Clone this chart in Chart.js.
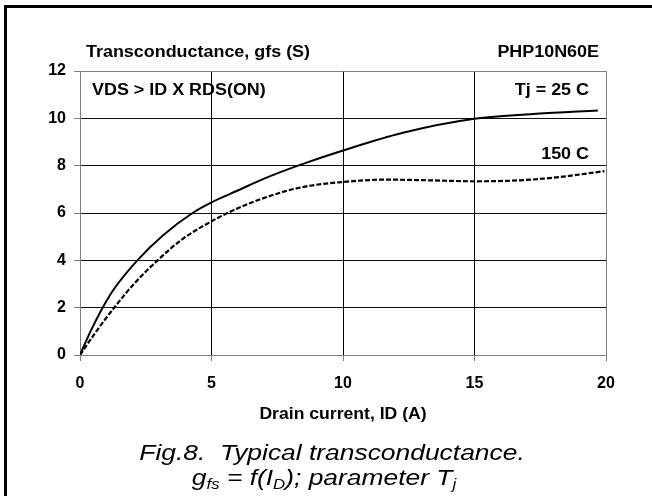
<!DOCTYPE html>
<html>
<head>
<meta charset="utf-8">
<script src="https://cdn.jsdelivr.net/npm/chart.js@4/dist/chart.umd.min.js"></script>
<style>
  html, body { margin: 0; padding: 0; background: #fff; }
  #wrap { width: 652px; height: 496px; position: relative; }
</style>
</head>
<body>
<div id="wrap"><canvas id="gfsChart" width="652" height="496"></canvas></div>
<script>
// valores (ID en A, gfs en S)
const id25  = [0, 0.4, 0.86, 1.3, 2.18, 3.16, 4.28, 5, 6, 7, 8.29, 10, 12.28, 15, 17.34, 19.69];
const gfs25 = [0, 1.0, 2.0, 2.8, 4.0, 5.06, 6.0, 6.45, 6.95, 7.45, 8.0, 8.64, 9.39, 9.98, 10.19, 10.33];
const id150  = [0, 0.62, 1.3, 2.05, 2.95, 3.9, 5, 6, 7.22, 8.48, 10, 11.65, 13.29, 15, 16.71, 18.23, 19.94];
const gfs150 = [0, 1.0, 2.0, 3.0, 4.0, 4.9, 5.65, 6.2, 6.72, 7.1, 7.31, 7.41, 7.38, 7.34, 7.38, 7.52, 7.77];
const xTicks = [0, 5, 10, 15, 20];
const yTicks = [0, 2, 4, 6, 8, 10, 12];

const FONT = '"Liberation Sans", Arial, sans-serif';
const GRIS = '#808080';

const toPts = (xs, ys) => xs.map((x, i) => ({ x: x, y: ys[i] }));

// texto algo ensanchado, como en la figura original
function texto(ctx, s, x, y, align, sx) {
    ctx.save();
    ctx.translate(x, y);
    ctx.scale(sx, 1);
    ctx.textAlign = align;
    ctx.fillText(s, 0, 0);
    ctx.restore();
}

const textos = {
    id: 'textos',
    beforeDraw(chart) {
        const ctx = chart.ctx;
        ctx.save();
        ctx.fillStyle = '#fff';
        ctx.fillRect(0, 0, chart.width, chart.height);
        ctx.fillStyle = '#000';
        ctx.fillRect(4, 5, 3, chart.height - 5);
        ctx.fillRect(4, 5, chart.width - 4, 3);
        ctx.restore();
    },
    afterDraw(chart) {
        const ctx = chart.ctx;
        const a = chart.chartArea;
        ctx.save();
        ctx.fillStyle = '#000';
        ctx.textBaseline = 'middle';
        ctx.font = 'bold 16px ' + FONT;
        texto(ctx, 'Transconductance, gfs (S)', 86, 53, 'left', 1.12);
        texto(ctx, 'VDS > ID X RDS(ON)', 92, 91, 'left', 1.12);
        texto(ctx, 'PHP10N60E', 599, 53, 'right', 1.12);
        texto(ctx, 'Tj = 25 C', 589, 91, 'right', 1.12);
        texto(ctx, '150 C', 589, 155, 'right', 1.12);
        texto(ctx, 'Drain current, ID (A)', (a.left + a.right) / 2, 415, 'center', 1.1);

        // leyenda de la figura
        ctx.textBaseline = 'alphabetic';
        ctx.font = 'italic 22px ' + FONT;
        texto(ctx, 'Fig.8.  Typical transconductance.', 332, 460, 'center', 1.2);
        const partes = [['g', 0], ['fs', 1], [' = f(I', 0], ['D', 1], ['); parameter T', 0], ['j', 1]];
        const fMain = 'italic 22px ' + FONT, fSub = 'italic 14px ' + FONT;
        const sx = 1.2;
        let w = 0;
        partes.forEach(p => { ctx.font = p[1] ? fSub : fMain; w += ctx.measureText(p[0]).width * sx; });
        let x = 324 - w / 2;
        partes.forEach(p => {
            ctx.font = p[1] ? fSub : fMain;
            texto(ctx, p[0], x, p[1] ? 489 : 485, 'left', sx);
            x += ctx.measureText(p[0]).width * sx;
        });
        ctx.restore();
    }
};

const ctxG = document.getElementById('gfsChart').getContext('2d');
new Chart(ctxG, {
    type: 'scatter',
    data: {
        datasets: [
            {
                label: 'Tj = 25 C',
                data: toPts(id25, gfs25),
                showLine: true,
                borderColor: '#000',
                borderWidth: 2,
                pointRadius: 0,
                cubicInterpolationMode: 'monotone'
            },
            {
                label: '150 C',
                data: toPts(id150, gfs150),
                showLine: true,
                borderColor: '#000',
                borderWidth: 2.2,
                borderDash: [5, 2],
                pointRadius: 0,
                cubicInterpolationMode: 'monotone'
            }
        ]
    },
    options: {
        responsive: false,
        animation: false,
        events: [],
        layout: { padding: { left: 0, top: 71, right: 46, bottom: 101 } },
        plugins: { legend: { display: false }, tooltip: { enabled: false } },
        scales: {
            x: {
                type: 'linear',
                min: 0, max: 20,
                afterBuildTicks: s => { s.ticks = xTicks.map(v => ({ value: v })); },
                afterFit: s => { s.height = 40; },
                grid: {
                    color: c => (c.tick && (c.tick.value === 0 || c.tick.value === 20)) ? GRIS : '#000',
                    lineWidth: 1,
                    tickLength: 6,
                    tickColor: GRIS
                },
                border: { color: GRIS, width: 1 },
                ticks: { color: '#000', padding: 13, maxRotation: 0, font: { family: FONT, size: 16, weight: 'bold' } }
            },
            y: {
                min: 0, max: 12,
                afterBuildTicks: s => { s.ticks = yTicks.map(v => ({ value: v })); },
                afterFit: s => { s.width = 80; },
                grid: {
                    color: c => (c.tick && (c.tick.value === 0 || c.tick.value === 12)) ? GRIS : '#111',
                    lineWidth: 1,
                    tickLength: 6,
                    tickColor: GRIS
                },
                border: { color: GRIS, width: 1 },
                ticks: { color: '#000', padding: 8, font: { family: FONT, size: 16, weight: 'bold' } }
            }
        }
    },
    plugins: [textos]
});
</script>
</body>
</html>
